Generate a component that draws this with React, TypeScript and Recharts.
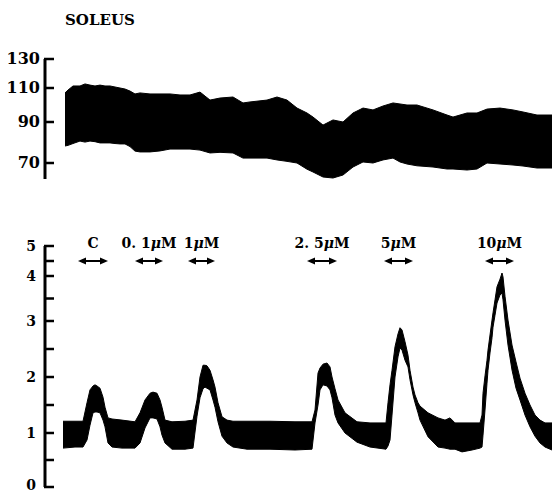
import { AreaChart, Area, XAxis, YAxis, ReferenceLine } from 'recharts'

// time in s from the left end of the axis; force envelopes (min / max of each twitch)
const topTime = [
  20, 23, 28, 35, 40, 45, 50, 55, 60, 65,
  70, 75, 80, 85, 90, 95, 105, 115, 125, 135,
  145, 155, 165, 175, 188, 198, 205, 222, 232, 242,
  252, 262, 268, 278, 288, 298, 308, 318, 328, 338,
  348, 355, 362, 372, 388, 402, 408, 422, 432, 442,
  455, 468, 478, 492, 507,
]
const topHigh = [
  107.1, 108.8, 111.4, 111.4, 112.8, 112.0, 111.4, 112.0, 111.4, 111.4,
  110.7, 110.0, 109.4, 108.2, 106.5, 107.1, 106.5, 106.5, 106.5, 105.9,
  105.9, 107.6, 102.9, 104.1, 104.7, 101.2, 101.8, 102.9, 104.7, 102.9,
  98.2, 95.3, 92.9, 88.5, 91.2, 90.0, 95.3, 98.2, 97.1, 99.4,
  101.2, 100.6, 100.0, 100.0, 97.1, 94.1, 92.9, 95.3, 95.3, 97.6,
  98.2, 97.1, 95.9, 94.1, 94.1,
]
const topLow = [
  78.3, 78.6, 79.5, 80.7, 80.2, 80.7, 80.4, 79.8, 79.8, 79.8,
  79.5, 79.3, 79.3, 78.0, 75.8, 75.4, 75.4, 75.9, 76.8, 76.8,
  76.8, 76.3, 74.9, 75.2, 74.9, 72.4, 72.4, 72.4, 71.5, 70.8,
  70.0, 66.9, 65.5, 63.0, 62.5, 64.0, 68.0, 70.5, 70.0, 71.5,
  72.4, 70.5, 69.5, 68.6, 68.0, 67.0, 67.0, 66.5, 67.0, 70.0,
  69.5, 69.0, 68.5, 67.5, 67.5,
]

const botTime = [
  18, 30, 38, 42, 45, 48, 50, 52, 55, 58,
  60, 63, 67, 77, 90, 95, 100, 105, 108, 112,
  115, 117, 120, 127, 140, 148, 152, 155, 158, 160,
  162, 165, 168, 170, 173, 177, 182, 188, 202, 225,
  250, 267, 270, 273, 275, 278, 282, 285, 287, 290,
  293, 300, 312, 325, 341, 343, 345, 347, 350, 353,
  355, 357, 360, 363, 365, 368, 370, 373, 375, 383,
  393, 400, 405, 410, 417, 427, 435, 437, 438, 440,
  442, 443, 445, 447, 448, 450, 452, 455, 457, 458,
  460, 463, 467, 471, 475, 480, 485, 490, 495, 500,
  507,
]
const botHigh = [
  1.21, 1.21, 1.21, 1.54, 1.77, 1.84, 1.86, 1.84, 1.8, 1.64,
  1.46, 1.27, 1.25, 1.23, 1.2, 1.36, 1.59, 1.71, 1.73, 1.71,
  1.59, 1.46, 1.23, 1.2, 1.21, 1.23, 1.59, 2.0, 2.21, 2.21,
  2.2, 2.12, 1.95, 1.82, 1.54, 1.29, 1.23, 1.21, 1.21, 1.21,
  1.2, 1.2, 1.41, 2.07, 2.16, 2.23, 2.25, 2.18, 2.0, 1.79,
  1.59, 1.36, 1.2, 1.18, 1.18, 1.54, 1.86, 2.12, 2.54, 2.77,
  2.88, 2.84, 2.63, 2.39, 2.12, 1.82, 1.68, 1.54, 1.48, 1.36,
  1.27, 1.23, 1.27, 1.18, 1.18, 1.18, 1.18, 1.32, 1.71, 2.02,
  2.3, 2.48, 2.75, 3.02, 3.18, 3.47, 3.76, 3.93, 4.1, 3.98,
  3.55, 3.02, 2.57, 2.27, 1.98, 1.71, 1.5, 1.32, 1.23, 1.18,
  1.18,
]
const botLow = [
  0.72, 0.74, 0.74, 0.87, 1.14, 1.36, 1.375, 1.375, 1.36, 1.23,
  1.11, 0.815, 0.74, 0.72, 0.72, 0.815, 1.09, 1.27, 1.27, 1.25,
  1.11, 0.96, 0.815, 0.7, 0.7, 0.72, 1.3, 1.63, 1.79, 1.82,
  1.8, 1.77, 1.59, 1.46, 1.2, 0.94, 0.815, 0.74, 0.7, 0.7,
  0.685, 0.7, 1.18, 1.5, 1.77, 1.86, 1.84, 1.77, 1.63, 1.32,
  1.18, 1.0, 0.83, 0.74, 0.7, 0.76, 0.87, 1.32, 2.0, 2.36,
  2.52, 2.48, 2.3, 2.18, 1.95, 1.68, 1.54, 1.36, 1.23, 0.93,
  0.74, 0.72, 0.7, 0.7, 0.65, 0.685, 0.72, 0.74, 0.96, 1.41,
  1.89, 2.12, 2.43, 2.7, 2.89, 3.13, 3.4, 3.58, 3.62, 3.47,
  3.02, 2.57, 2.125, 1.8, 1.59, 1.32, 1.11, 0.94, 0.815, 0.74,
  0.685,
]

// drug applications (double arrows)
const doseLabels = ['C', '0. 1\u03bcM', '1\u03bcM', '2. 5\u03bcM', '5\u03bcM', '10\u03bcM']
const doseStart = [33, 90, 143, 262, 339, 440]
const doseEnd = [63, 118, 170, 292, 368, 469]

const topTicks = [70, 90, 110, 130]
const botTicks = [0, 0.5, 1, 1.5, 2, 2.5, 3, 3.5, 4, 4.5, 5]

const FONT = '"DejaVu Serif", "Liberation Serif", serif'
const TICK_LEN = 9 // x runs 0..507 over 507 px, so this is in px too

// the recorder's axes are not linear: piecewise scale between calibration marks
function kneeScale(knots: number[], fracs: number[]): any {
  let dom = [knots[0], knots[knots.length - 1]]
  let rng = [0, 1]
  const scale: any = (v: number) => {
    let i = 0
    while (i < knots.length - 2 && v > knots[i + 1]) i++
    const f = fracs[i] + ((v - knots[i]) / (knots[i + 1] - knots[i])) * (fracs[i + 1] - fracs[i])
    return rng[0] + f * (rng[1] - rng[0])
  }
  scale.domain = (d?: number[]) => {
    if (!d) return dom
    dom = [...d]
    return scale
  }
  scale.range = (r?: number[]) => {
    if (!r) return rng
    rng = [...r]
    return scale
  }
  scale.copy = () => kneeScale(knots, fracs).domain(dom).range(rng)
  scale.ticks = () => knots
  return scale
}

const topScale = kneeScale([62, 70, 90, 110, 130], [0, 0.1333, 0.475, 0.7583, 1])
const botScale = kneeScale([0, 1, 2, 3, 4, 5], [0, 0.2241, 0.4564, 0.6888, 0.8755, 1])

const topData = topTime.map((t, i) => ({ t, band: [topLow[i], topHigh[i]] }))
const botData = botTime.map((t, i) => ({ t, band: [botLow[i], botHigh[i]] }))

// only whole numbers get a label; baseline is kept inside the svg
const makeTick = (gap: number, size: number, maxBaseline: number) => (props: any) => {
  const v = props.payload.value
  if (!Number.isInteger(v)) return <g />
  const base = Math.min(Number(props.y) + 0.33 * size, maxBaseline)
  return (
    <text
      x={Number(props.x) - gap}
      y={base}
      textAnchor="end"
      fontFamily={FONT}
      fontWeight="bold"
      fontSize={size}
      fill="#000"
    >
      {v}
    </text>
  )
}

const tickShape = (props: any) => {
  const { x1, x2, y1 } = props
  return <rect x={Math.min(x1, x2) - 1} y={y1 - 1.25} width={Math.abs(x2 - x1) + 1} height={2.5} fill="#000" />
}

// inward tick marks, drawn inside the plot
const tickMarks = (ticks: number[]) =>
  ticks.map((v) => (
    <ReferenceLine
      key={`tick-${v}`}
      segment={[
        { x: 0, y: v },
        { x: TICK_LEN, y: v },
      ]}
      ifOverflow="visible"
      shape={tickShape}
    />
  ))

const makeArrow = (label: string) => (props: any) => {
  const { x1, x2, y1 } = props
  const head = 8
  const parts = label.split('\u03bc')
  return (
    <g>
      <line x1={x1 + head} x2={x2 - head} y1={y1} y2={y1} stroke="#000" strokeWidth={2} />
      <polygon points={`${x1},${y1} ${x1 + head},${y1 - 3.5} ${x1 + head},${y1 + 3.5}`} fill="#000" />
      <polygon points={`${x2},${y1} ${x2 - head},${y1 - 3.5} ${x2 - head},${y1 + 3.5}`} fill="#000" />
      <text
        x={(x1 + x2) / 2}
        y={y1 - 13}
        textAnchor="middle"
        fontFamily={FONT}
        fontWeight="bold"
        fontSize={14}
        fill="#000"
      >
        {parts[0]}
        {parts.length > 1 && <tspan fontStyle="italic">{'\u03bc'}</tspan>}
        {parts.length > 1 && parts[1]}
      </text>
    </g>
  )
}

export default function App() {
  return (
    <div style={{ position: 'absolute', left: 0, top: 0, width: 552, height: 493, background: '#fff' }}>
      <div
        style={{
          position: 'absolute',
          left: 65,
          top: 11,
          fontFamily: FONT,
          fontWeight: 'bold',
          fontSize: 15,
          lineHeight: '18px',
          color: '#000',
        }}
      >
        SOLEUS
      </div>
      <div style={{ position: 'absolute', left: 0, top: 0 }}>
        <AreaChart width={552} height={190} data={topData} margin={{ top: 59, right: 0, bottom: 11, left: 0 }}>
          <XAxis dataKey="t" type="number" domain={[0, 507]} allowDataOverflow hide />
          <YAxis
            type="number"
            domain={[62, 130]}
            scale={topScale}
            allowDataOverflow
            ticks={topTicks}
            interval={0}
            width={45}
            tickSize={0}
            tickMargin={0}
            tickLine={false}
            axisLine={{ stroke: '#000', strokeWidth: 3 }}
            tick={makeTick(5, 16, 186)}
          />
          <Area
            dataKey="band"
            type="linear"
            stroke="#000"
            strokeWidth={1}
            fill="#000"
            fillOpacity={1}
            dot={false}
            activeDot={false}
            isAnimationActive={false}
          />
          {tickMarks(topTicks)}
        </AreaChart>
      </div>
      <div style={{ position: 'absolute', left: 0, top: 190 }}>
        <AreaChart width={552} height={303} data={botData} margin={{ top: 56, right: 0, bottom: 6, left: 0 }}>
          <XAxis dataKey="t" type="number" domain={[0, 507]} allowDataOverflow hide />
          <YAxis
            type="number"
            domain={[0, 5]}
            scale={botScale}
            allowDataOverflow
            ticks={botTicks}
            interval={0}
            width={45}
            tickSize={0}
            tickMargin={0}
            tickLine={false}
            axisLine={{ stroke: '#000', strokeWidth: 3 }}
            tick={makeTick(9, 14, 299.5)}
          />
          <Area
            dataKey="band"
            type="linear"
            stroke="#000"
            strokeWidth={1}
            fill="#000"
            fillOpacity={1}
            dot={false}
            activeDot={false}
            isAnimationActive={false}
          />
          {tickMarks(botTicks)}
          {doseLabels.map((lbl, i) => (
            <ReferenceLine
              key={lbl}
              segment={[
                { x: doseStart[i], y: 4.5 },
                { x: doseEnd[i], y: 4.5 },
              ]}
              shape={makeArrow(lbl)}
            />
          ))}
        </AreaChart>
      </div>
    </div>
  )
}
